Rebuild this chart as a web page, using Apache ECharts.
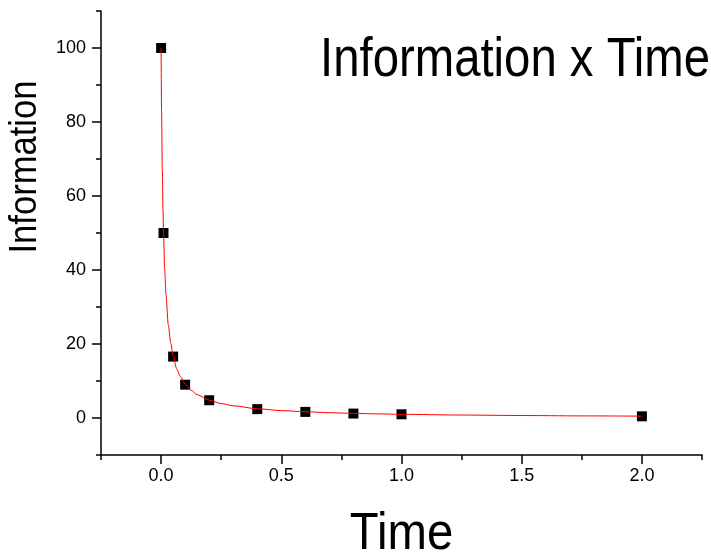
<!DOCTYPE html>
<html>
<head>
<meta charset="utf-8">
<script src="https://cdn.jsdelivr.net/npm/echarts@6/dist/echarts.min.js"></script>
<style>
  html, body { margin: 0; padding: 0; background: #fff; }
  #chart { width: 711px; height: 558px; }
</style>
</head>
<body>
<div id="chart"></div>
<script>
// Measured points
const timeValues = [0, 0.01, 0.05, 0.1, 0.2, 0.4, 0.6, 0.8, 1.0, 2.0];
const infoValues = [100, 50, 16.6, 9.0, 4.8, 2.4, 1.65, 1.2, 1.0, 0.45];

// Fitted curve through the measurements
const curveX = [0, 0.002, 0.005, 0.008, 0.01, 0.015, 0.02, 0.03, 0.04, 0.05, 0.065, 0.08, 0.1, 0.125, 0.15, 0.2, 0.25, 0.3, 0.4, 0.5, 0.6, 0.7, 0.8, 0.9, 1.0, 1.25, 1.5, 1.75, 2.0];
const curveY = [100, 83, 67, 56, 50, 40, 33.5, 25.2, 20.3, 16.8, 13.3, 11.2, 9.2, 7.5, 6.3, 4.8, 3.9, 3.3, 2.5, 2.0, 1.7, 1.43, 1.25, 1.11, 1.0, 0.8, 0.67, 0.57, 0.5];

// Tick positions and labels
const xMajorTicks = [0, 0.5, 1.0, 1.5, 2.0];
const xMinorTicks = [-0.25, 0.25, 0.75, 1.25, 1.75, 2.25];
const yMajorTicks = [0, 20, 40, 60, 80, 100];
const yMinorTicks = [-10, 10, 30, 50, 70, 90, 110];

const titleText = 'Information x Time';
const xName = 'Time';
const yName = 'Information';

const FONT = '"Liberation Sans", Arial, sans-serif';
const X_MIN = -0.25, X_MAX = 2.25, Y_MIN = -10, Y_MAX = 110;

const chart = echarts.init(document.getElementById('chart'), null, { renderer: 'canvas' });

const lineStyle = { color: '#000', width: 1.5 };

function xAxisDef(ticks, len, withLine, withLabels) {
  return {
    type: 'value', position: 'bottom', min: X_MIN, max: X_MAX,
    axisLine: { show: withLine, onZero: false, lineStyle },
    axisTick: { show: true, inside: false, length: len, customValues: ticks, lineStyle },
    axisLabel: withLabels ? {
      show: true, customValues: ticks, margin: 12,
      color: '#000', fontFamily: FONT, fontSize: 18,
      formatter: v => v.toFixed(1)
    } : { show: false },
    splitLine: { show: false }
  };
}
function yAxisDef(ticks, len, withLine, withLabels) {
  return {
    type: 'value', position: 'left', offset: 0, min: Y_MIN, max: Y_MAX,
    axisLine: { show: withLine, onZero: false, lineStyle },
    axisTick: { show: true, inside: false, length: len, customValues: ticks, lineStyle },
    axisLabel: withLabels ? {
      show: true, customValues: ticks, margin: 15,
      color: '#000', fontFamily: FONT, fontSize: 18,
      formatter: v => String(v)
    } : { show: false },
    splitLine: { show: false }
  };
}

const pts = timeValues.map((t, i) => [t, infoValues[i]]);
const curve = curveX.map((t, i) => [t, curveY[i]]);

chart.setOption({
  animation: false,
  backgroundColor: '#fff',
  grid: { left: 101, right: 9, top: 11, bottom: 103, containLabel: false },
  xAxis: [
    xAxisDef(xMajorTicks, 9, true, true),
    xAxisDef(xMinorTicks, 5, false, false)
  ],
  yAxis: [
    yAxisDef(yMajorTicks, 9, true, true),
    yAxisDef(yMinorTicks, 5, false, false)
  ],
  series: [
    {
      type: 'scatter', data: pts, xAxisIndex: 0, yAxisIndex: 0,
      symbol: 'rect', symbolSize: 10,
      itemStyle: { color: '#000', opacity: 1 },
      z: 2
    },
    {
      type: 'line', data: curve, xAxisIndex: 0, yAxisIndex: 0,
      showSymbol: false, smooth: 0.3, smoothMonotone: 'x',
      lineStyle: { color: '#ff0000', width: 1 },
      z: 3
    }
  ],
  graphic: [
    {
      type: 'text', x: 710, y: 61, scaleX: 0.86,
      style: { text: titleText, font: '55px ' + FONT, fill: '#000', align: 'right', verticalAlign: 'middle' }
    },
    {
      type: 'text', x: 401.5, y: 535, scaleX: 0.91,
      style: { text: xName, font: '52px ' + FONT, fill: '#000', align: 'center', verticalAlign: 'middle' }
    },
    {
      type: 'text', x: 25.5, y: 167, rotation: Math.PI / 2, scaleX: 0.91,
      style: { text: yName, font: '38px ' + FONT, fill: '#000', align: 'center', verticalAlign: 'middle' }
    }
  ]
});
</script>
</body>
</html>
